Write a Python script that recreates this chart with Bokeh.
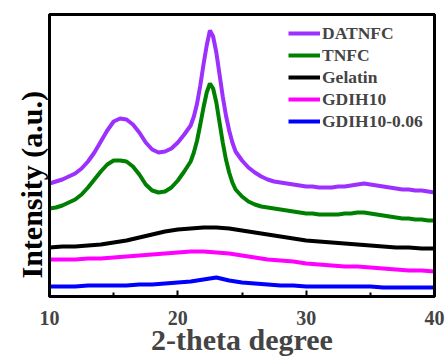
from bokeh.plotting import figure
from bokeh.models import FixedTicker, Legend, LegendItem, Range1d, Title, LinearAxis
from bokeh.embed import file_html
from bokeh.resources import INLINE

# dense 2-theta grid for the crystalline samples
x_dense = [10, 10.5, 11, 11.5, 12, 12.5, 13, 13.5, 14, 14.5, 15, 15.5, 16, 16.5, 17, 17.5, 18, 18.5, 19, 19.5, 20, 20.5, 21,
           21.25, 21.5, 21.75, 22, 22.25, 22.5, 22.75, 23, 23.25, 23.5, 23.75, 24, 24.25, 24.5,
           25, 25.5, 26, 26.5, 27, 27.5, 28, 28.5, 29, 29.5, 30, 30.5, 31, 31.5, 32, 32.5, 33, 33.5, 34, 34.5,
           35, 35.5, 36, 36.5, 37, 37.5, 38, 38.5, 39, 39.5, 40]
datnfc = [117, 119, 121, 124, 127, 132, 139, 148, 159, 170, 179, 182, 181, 176, 168, 158, 151, 148, 149, 152, 158, 166, 175,
          184, 197, 215, 236, 255, 270, 264, 248, 226, 204, 185, 170, 158, 149,
          140, 133, 128, 124, 121, 119, 118, 117, 116, 115, 114, 114, 113, 113, 113, 114, 114, 115, 116, 117,
          116, 115, 114, 113, 112, 111, 111, 110, 110, 109, 108]
tnfc = [92, 93, 95, 98, 101, 106, 113, 121, 129, 136, 140, 140, 139, 134, 126, 116, 110, 108, 109, 113, 120, 129, 139,
        148, 160, 176, 193, 208, 217, 212, 198, 178, 158, 141, 128, 118, 111,
        104, 99, 96, 94, 93, 92, 91, 90, 89, 88, 87, 87, 86, 86, 86, 86, 87, 87, 88, 88,
        87, 86, 85, 84, 83, 82, 82, 81, 81, 80, 80]

# coarse grid for the amorphous samples
x_coarse = [10, 11, 12, 13, 14, 15, 16, 17, 18, 19, 20, 21, 22, 23, 24, 25, 26, 27, 28, 29, 30,
            31, 32, 33, 34, 35, 36, 37, 38, 39, 40]
gelatin = [53, 54, 54, 55, 56, 58, 60, 63, 66, 69, 71, 72, 73, 73, 72, 70, 68, 66, 64, 62, 60,
           59, 58, 57, 56, 55, 54, 53, 53, 52, 52]
gdih10 = [41, 41, 41, 42, 42, 43, 44, 45, 46, 47, 48, 49, 49, 48, 47, 45, 43, 41, 40, 39, 37,
          36, 35, 34, 34, 33, 32, 31, 30, 30, 29]
gdih10_006 = [14, 14, 14, 15, 15, 15, 15, 16, 16, 17, 18, 19, 21, 23, 20, 18, 17, 16, 15, 15, 14,
              14, 14, 14, 14, 14, 13, 13, 13, 13, 13]

names = ["DATNFC", "TNFC", "Gelatin", "GDIH10", "GDIH10-0.06"]
colors = ["#9B30FF", "#008000", "#000000", "#FF00FF", "#0000FF"]
x_ticks = [10, 20, 30, 40]
x_lim = (10, 40)
y_lim = (4, 286)

FONT = "Liberation Serif"

p = figure(width=445, height=358, output_backend="svg", toolbar_location=None,
           x_range=Range1d(*x_lim), y_range=Range1d(*y_lim),
           min_border_left=49, min_border_right=11, min_border_top=14, min_border_bottom=62)
p.background_fill_color = "white"
p.border_fill_color = "white"
p.grid.visible = False
p.outline_line_color = "black"
p.outline_line_width = 3

series = [(x_dense, datnfc), (x_dense, tnfc), (x_coarse, gelatin), (x_coarse, gdih10), (x_coarse, gdih10_006)]
renderers = []
for (xs, ys), c in zip(series, colors):
    r = p.line(xs, ys, line_color=c, line_width=4)
    renderers.append(r)

xa = p.xaxis[0]
xa.ticker = FixedTicker(ticks=x_ticks, minor_ticks=[15, 25, 35])
xa.axis_line_width = 3
xa.major_tick_in = 6
xa.major_tick_out = 0
xa.minor_tick_in = 4
xa.minor_tick_out = 0
xa.major_tick_line_width = 2
xa.minor_tick_line_width = 2
xa.major_label_text_font = FONT
xa.major_label_text_font_style = "bold"
xa.major_label_text_font_size = "20px"
xa.major_label_standoff = 14
xa.axis_label = "2-theta degree"
xa.axis_label_text_font = FONT
xa.axis_label_text_font_style = "bold"
xa.axis_label_text_font_size = "30px"
xa.axis_label_standoff = -5


def frame_axis(ax, tick, bounds):
    # a plain frame side: axis line only, invisible tick and label
    ax.ticker = FixedTicker(ticks=[tick])
    ax.bounds = bounds
    ax.axis_line_width = 3
    ax.axis_line_color = "black"
    ax.major_tick_line_alpha = 0
    ax.minor_tick_line_alpha = 0
    ax.major_tick_in = 0
    ax.major_tick_out = 0
    ax.minor_tick_in = 0
    ax.minor_tick_out = 0
    ax.major_label_text_font_size = "1px"
    ax.major_label_text_alpha = 0
    ax.major_label_standoff = 0


frame_axis(p.yaxis[0], 145, y_lim)
top_axis = LinearAxis()
frame_axis(top_axis, 25, x_lim)
p.add_layout(top_axis, "above")
right_axis = LinearAxis()
frame_axis(right_axis, 145, y_lim)
p.add_layout(right_axis, "right")

# y-axis title, set slightly below the frame's centre as in the original
ytitle = Title(text="Intensity (a.u.)", align="left", offset=18,
               text_font=FONT, text_font_style="bold", text_font_size="30px",
               text_color="black", standoff=4)
p.add_layout(ytitle, "left")

legend = Legend(items=[LegendItem(label=n, renderers=[r]) for n, r in zip(names, renderers)],
                location=(239, 164))
legend.background_fill_alpha = 0
legend.border_line_color = None
legend.padding = 0
legend.margin = 0
legend.spacing = 0
legend.glyph_width = 32
legend.glyph_height = 22
legend.label_height = 22
legend.label_standoff = 2
legend.label_text_font = FONT
legend.label_text_font_style = "bold"
legend.label_text_font_size = "17.5px"
p.add_layout(legend, "center")

open("out.html", "w").write(file_html(p, INLINE))
